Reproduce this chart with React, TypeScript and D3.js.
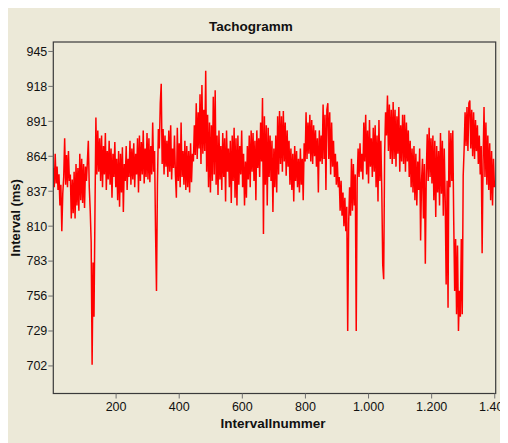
import React from "react";
import * as d3 from "d3";

// RR intervals (ms), one reading every 3rd interval, starting at interval 1
const rr: number[] = [
  855, 840, 866, 843, 856, 838, 850, 826, 842, 806,
  835, 848, 878, 842, 865, 840, 868, 845, 850, 816,
  846, 820, 852, 816, 858, 826, 855, 822, 866, 830,
  862, 828, 858, 824, 856, 845, 860, 876, 840, 822,
  798, 703, 782, 740, 820, 894, 850, 884, 852, 878,
  845, 880, 840, 872, 850, 882, 838, 868, 846, 876,
  842, 870, 832, 866, 848, 875, 840, 862, 830, 868,
  825, 866, 836, 871, 821, 858, 845, 872, 838, 862,
  848, 876, 842, 870, 846, 874, 840, 866, 850, 878,
  836, 880, 845, 875, 850, 884, 843, 870, 848, 882,
  846, 878, 844, 872, 850, 890, 852, 868, 806, 760,
  842, 885, 870, 905, 920, 858, 885, 850, 880, 856,
  876, 848, 884, 852, 888, 846, 870, 855, 880, 850,
  832, 886, 845, 874, 840, 890, 848, 868, 842, 876,
  838, 872, 840, 868, 836, 874, 844, 866, 860, 888,
  865, 905, 862, 898, 870, 912, 858, 919, 866, 900,
  868, 930, 852, 896, 840, 890, 836, 888, 845, 910,
  850, 915, 842, 880, 834, 884, 846, 872, 838, 882,
  848, 878, 829, 884, 852, 870, 840, 876, 828, 880,
  845, 886, 832, 878, 826, 880, 842, 872, 850, 884,
  840, 866, 826, 860, 832, 872, 846, 880, 840, 884,
  852, 882, 845, 876, 830, 884, 855, 878, 848, 890,
  860, 909, 804, 895, 842, 888, 826, 886, 848, 880,
  845, 876, 821, 870, 840, 880, 836, 895, 850, 899,
  858, 895, 852, 899, 860, 890, 849, 884, 856, 876,
  842, 870, 838, 866, 829, 872, 845, 868, 840, 862,
  836, 870, 842, 862, 830, 874, 860, 898, 862, 890,
  866, 896, 860, 892, 858, 888, 864, 884, 856, 878,
  836, 884, 860, 880, 858, 904, 862, 896, 838, 900,
  905, 862, 898, 850, 890, 856, 876, 848, 866, 842,
  860, 840, 848, 822, 845, 818, 836, 810, 832, 806,
  825, 729, 812, 840, 818, 862, 822, 858, 826, 850,
  729, 845, 870, 848, 874, 852, 866, 846, 890, 860,
  896, 850, 884, 843, 892, 856, 878, 848, 886, 852,
  888, 840, 880, 829, 892, 845, 876, 838, 780, 769,
  866, 898, 880, 911, 868, 904, 862, 900, 858, 906,
  862, 900, 856, 895, 866, 902, 852, 888, 860, 896,
  858, 896, 852, 890, 860, 884, 848, 876, 840, 870,
  836, 872, 830, 866, 826, 860, 838, 870, 799, 845,
  862, 816, 858, 781, 850, 881, 845, 886, 848, 878,
  843, 880, 830, 876, 817, 872, 836, 868, 826, 882,
  835, 876, 818, 870, 830, 765, 845, 747, 884, 840,
  882, 845, 884, 814, 760, 800, 742, 795, 729, 760,
  740, 800, 742, 849, 870, 898, 872, 902, 868, 905,
  907, 870, 900, 864, 898, 862, 892, 868, 888, 858,
  880, 850, 872, 789, 860, 902, 848, 890, 842, 880,
  838, 874, 830, 868, 826, 862, 840,
];
const firstInterval = 1;
const intervalStep = 3;

const yTicks: number[] = [702, 729, 756, 783, 810, 837, 864, 891, 918, 945];
const xTicks: number[] = [200, 400, 600, 800, 1000, 1200, 1400];
const xTickLabels: string[] = ["200", "400", "600", "800", "1.000", "1.200", "1.400"];

const title = "Tachogramm";
const xTitle = "Intervallnummer";
const yTitle = "Interval (ms)";

export default function App() {
  const W = 500;
  const H = 435;
  // page-coordinate layout (svg sits at 8,8 due to body margin)
  const L = 53.3, R = 495.7, T = 42, B = 393.5;
  const x = d3.scaleLinear().domain([1, 1403]).range([L, R]);
  const y = d3.scaleLinear().domain([680.7, 952.3]).range([B, T]);
  const pts: [number, number][] = rr.map((v, i) => [firstInterval + i * intervalStep, v]);
  const line = d3.line<[number, number]>().x((d) => x(d[0])).y((d) => y(d[1]));
  const font = "'Liberation Sans', Arial, sans-serif";
  return (
    <svg width={W} height={H} style={{ display: "block" }}>
      <g transform="translate(-8,-8)">
        <rect x={8} y={8} width={W} height={H} fill="#ECE9D8" />
        <defs>
          <clipPath id="pc">
            <rect x={L} y={T} width={R - L} height={B - T} />
          </clipPath>
        </defs>
        <path d={line(pts) || ""} fill="none" stroke="#FF0000" strokeWidth={1.5} strokeLinejoin="miter" clipPath="url(#pc)" />
        <rect x={L} y={T} width={R - L} height={B - T} fill="none" stroke="#3a3a3a" strokeWidth={1.2} />
        {yTicks.map((t) => (
          <g key={t}>
            <line x1={L - 5} x2={L} y1={y(t)} y2={y(t)} stroke="#707070" />
            <text x={L - 6} y={y(t)} dy="0.35em" textAnchor="end" fontFamily={font} fontSize={12.5} fill="#111">
              {t}
            </text>
          </g>
        ))}
        {xTicks.map((t, i) => (
          <g key={t}>
            <line x1={x(t)} x2={x(t)} y1={B} y2={B + 5} stroke="#707070" />
            <text x={x(t)} y={411} textAnchor="middle" fontFamily={font} fontSize={12.5} fill="#111">
              {xTickLabels[i]}
            </text>
          </g>
        ))}
        <text x={251} y={31} textAnchor="middle" fontFamily={font} fontWeight="bold" fontSize={13.5} fill="#111">
          {title}
        </text>
        <text x={273} y={428} textAnchor="middle" fontFamily={font} fontWeight="bold" fontSize={13.5} fill="#111">
          {xTitle}
        </text>
        <text
          transform={`translate(20,${(T + B) / 2}) rotate(-90)`}
          textAnchor="middle"
          fontFamily={font}
          fontWeight="bold"
          fontSize={13}
          fill="#111"
        >
          {yTitle}
        </text>
      </g>
    </svg>
  );
}
